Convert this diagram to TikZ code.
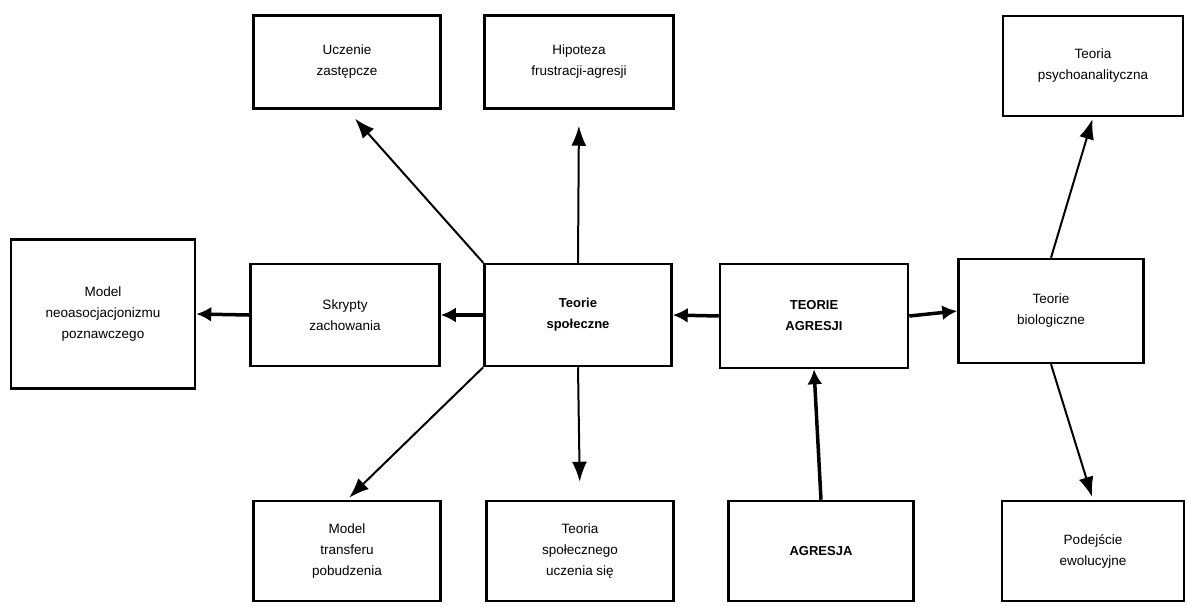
\documentclass[tikz,border=0pt]{standalone}
\usepackage{fontspec}
\setmainfont{Liberation Sans}
\usetikzlibrary{arrows.meta}
\tikzstyle{box}=[draw, line width=2.5pt, align=center, inner sep=2pt,
		font=\fontsize{13.5}{21}\selectfont]
\tikzstyle{bbox}=[box, font=\bfseries\fontsize{13}{21}\selectfont]
\tikzstyle{thk}=[line width=3.5pt, -{Latex[length=15pt,width=15pt]}]
\tikzstyle{thn}=[line width=2pt, -{Latex[length=20pt,width=15pt]}]
\begin{document}
\begin{tikzpicture}[x=1pt,y=-1pt]
	\useasboundingbox (0,0) rectangle (1187,606);
	% top row
	\node[box, minimum width=187pt, minimum height=93pt] (tl) at (347,62) {Uczenie\\zastępcze};
	\node[box, minimum width=189pt, minimum height=93pt] (tc) at (579,62) {Hipoteza\\frustracji-agresji};
	\node[box, minimum width=180pt, minimum height=100pt] (tr) at (1093,66) {Teoria\\psychoanalityczna};
	% middle row
	\node[box, minimum width=184pt, minimum height=149pt] (mn) at (103,314) {Model\\neoasocjacjonizmu\\poznawczego};
	\node[box, minimum width=189pt, minimum height=102pt] (sk) at (345,315) {Skrypty\\zachowania};
	\node[bbox, minimum width=187pt, minimum height=102pt] (sp) at (578,315) {Teorie\\społeczne};
	\node[bbox, minimum width=188pt, minimum height=104pt] (ta) at (814,316) {TEORIE\\AGRESJI};
	\node[box, minimum width=185pt, minimum height=104pt] (tb) at (1051,311) {Teorie\\biologiczne};
	% bottom row
	\node[box, minimum width=187pt, minimum height=100pt] (bl) at (347,551) {Model\\transferu\\pobudzenia};
	\node[box, minimum width=187pt, minimum height=100pt] (bc) at (580,551) {Teoria\\społecznego\\uczenia się};
	\node[bbox, minimum width=185pt, minimum height=100pt] (ag) at (821,551) {AGRESJA};
	\node[box, minimum width=182pt, minimum height=100pt] (br) at (1093,551) {Podejście\\ewolucyjne};
	% connectors
	\draw[thk] (ta.west) -- (sp.east);
	\draw[thk] (ta.east) -- (tb.west);
	\draw[thk] (sp.west) -- (sk.east);
	\draw[thk] (sk.west) -- (mn.east);
	\draw[thk] (ag.north) -- (ta.south);
	\draw[thn, shorten >=12pt] (sp.north west) -- (tl.south);
	\draw[thn, shorten >=16pt] (sp.north) -- (tc.south);
	\draw[thn, shorten >=18pt] (sp.south) -- (bc.north);
	\draw[thn, shorten >=3pt] (sp.south west) -- (bl.north);
	\draw[thn, shorten >=2pt] (tb.north) -- (tr.south);
	\draw[thn, shorten >=3pt] (tb.south) -- (br.north);
\end{tikzpicture}
\end{document}
